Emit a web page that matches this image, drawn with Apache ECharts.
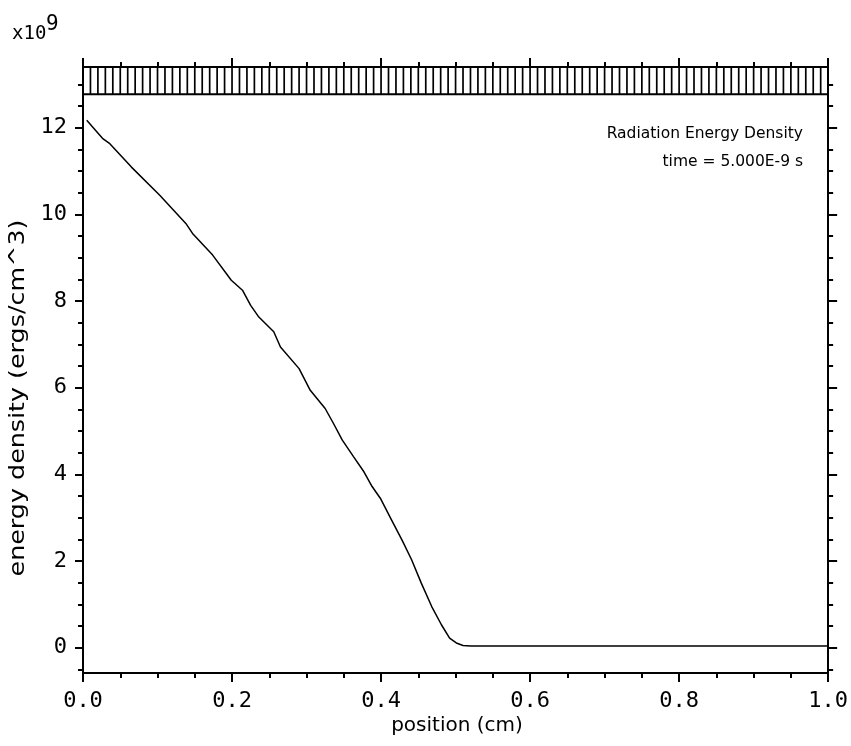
<!DOCTYPE html>
<html>
<head>
<meta charset="utf-8">
<script src="https://cdn.jsdelivr.net/npm/echarts@6/dist/echarts.min.js"></script>
<style>html,body{margin:0;padding:0;background:#fff;}#c{width:851px;height:746px;}</style>
</head>
<body>
<div id="c"></div>
<script>
// position (cm)
const positions = [0.005, 0.027, 0.036, 0.065, 0.103, 0.138, 0.147, 0.174, 0.199, 0.214, 0.225, 0.236, 0.256, 0.265, 0.290, 0.305, 0.325, 0.336, 0.348, 0.363, 0.377, 0.388, 0.399, 0.414, 0.428, 0.441, 0.454, 0.468, 0.481, 0.492, 0.501, 0.510, 0.520, 0.600, 0.700, 0.800, 0.900, 1.000];
// energy density (x1e9 ergs/cm^3)
const energyDensity = [12.17, 11.74, 11.63, 11.09, 10.44, 9.79, 9.56, 9.06, 8.48, 8.25, 7.90, 7.63, 7.29, 6.94, 6.44, 5.94, 5.52, 5.18, 4.79, 4.41, 4.06, 3.72, 3.45, 2.95, 2.49, 2.03, 1.49, 0.95, 0.53, 0.22, 0.11, 0.05, 0.04, 0.04, 0.04, 0.04, 0.04, 0.04];
// mesh zone edges shown in the top band
const meshEdges = [0.00,0.01,0.02,0.03,0.04,0.05,0.06,0.07,0.08,0.09,0.10,0.11,0.12,0.13,0.14,0.15,0.16,0.17,0.18,0.19,0.20,0.21,0.22,0.23,0.24,0.25,0.26,0.27,0.28,0.29,0.30,0.31,0.32,0.33,0.34,0.35,0.36,0.37,0.38,0.39,0.40,0.41,0.42,0.43,0.44,0.45,0.46,0.47,0.48,0.49,0.50,0.51,0.52,0.53,0.54,0.55,0.56,0.57,0.58,0.59,0.60,0.61,0.62,0.63,0.64,0.65,0.66,0.67,0.68,0.69,0.70,0.71,0.72,0.73,0.74,0.75,0.76,0.77,0.78,0.79,0.80,0.81,0.82,0.83,0.84,0.85,0.86,0.87,0.88,0.89,0.90,0.91,0.92,0.93,0.94,0.95,0.96,0.97,0.98,0.99,1.00];
const yMajorTicks = [0, 2, 4, 6, 8, 10, 12];
const yMinorTicks = [-0.5, 0.5, 1, 1.5, 2.5, 3, 3.5, 4.5, 5, 5.5, 6.5, 7, 7.5, 8.5, 9, 9.5, 10.5, 11, 11.5, 12.5, 13];
const yMin = -0.583, yMax = 13.40, bandBottom = 12.77;

const chart = echarts.init(document.getElementById('c'), null, {renderer: 'canvas'});
const mono = 'DejaVu Sans Mono';
const sans = 'DejaVu Sans';

function xAx(pos, showLabel) {
  return {
    type: 'value', position: pos, min: 0, max: 1, interval: 0.2,
    axisLine: {show: true, onZero: false, lineStyle: {color: '#000', width: 2}},
    axisTick: {show: true, inside: false, length: 9, lineStyle: {color: '#000', width: 2}},
    minorTick: {show: true, splitNumber: 4, length: 5, lineStyle: {color: '#000', width: 2}},
    splitLine: {show: false}, minorSplitLine: {show: false},
    axisLabel: {show: showLabel, margin: 17, color: '#000', fontFamily: mono, fontSize: 22,
      formatter: v => v.toFixed(1)}
  };
}
function yAx(pos, ticks, len, showLabel, showLine) {
  return {
    type: 'value', position: pos, min: yMin, max: yMax,
    axisLine: {show: showLine, onZero: false, lineStyle: {color: '#000', width: 2}},
    axisTick: {show: true, inside: false, length: len, customValues: ticks, lineStyle: {color: '#000', width: 2}},
    splitLine: {show: false},
    axisLabel: {show: showLabel, customValues: yMajorTicks, margin: 16, color: '#000', fontFamily: mono, fontSize: 22,
      formatter: v => String(Math.round(v))}
  };
}

chart.setOption({
  animation: false,
  backgroundColor: '#fff',
  grid: {left: 83, right: 19, top: 67, bottom: 73, containLabel: false},
  xAxis: [xAx('bottom', true), xAx('top', false)],
  yAxis: [
    yAx('left', yMajorTicks, 8, true, true),
    yAx('left', yMinorTicks, 5, false, false),
    yAx('right', yMajorTicks, 9, false, true),
    yAx('right', yMinorTicks, 5, false, false)
  ],
  series: [
    {
      type: 'line', xAxisIndex: 0, yAxisIndex: 0,
      data: positions.map((x, i) => [x, energyDensity[i]]),
      showSymbol: false, symbol: 'none', smooth: false,
      lineStyle: {color: '#000', width: 1.5}
    },
    {
      type: 'line', xAxisIndex: 0, yAxisIndex: 0,
      data: [[0, bandBottom], [1, bandBottom]],
      showSymbol: false, symbol: 'none',
      lineStyle: {color: '#000', width: 2}
    },
    {
      type: 'custom', xAxisIndex: 0, yAxisIndex: 0, clip: false,
      data: meshEdges.map(x => [x, bandBottom]),
      renderItem: function (params, api) {
        const x = api.value(0);
        const p0 = api.coord([x, bandBottom]);
        const p1 = api.coord([x, yMax]);
        return {type: 'line', shape: {x1: p0[0], y1: p0[1], x2: p1[0], y2: p1[1]},
          style: {stroke: '#000', lineWidth: 1.7}};
      }
    }
  ],
  graphic: [
    {type: 'text', x: 12, y: 44, style: {text: 'x10', textAlign: 'left', textVerticalAlign: 'bottom',
      fontFamily: mono, fontSize: 19, fill: '#000'}},
    {type: 'text', x: 46, y: 35, style: {text: '9', textAlign: 'left', textVerticalAlign: 'bottom',
      fontFamily: mono, fontSize: 21, fill: '#000'}},
    {type: 'text', x: 803, y: 134, style: {text: 'Radiation Energy Density', textAlign: 'right', textVerticalAlign: 'middle',
      fontFamily: sans, fontSize: 15.5, fill: '#000'}},
    {type: 'text', x: 803, y: 162, style: {text: 'time = 5.000E-9 s', textAlign: 'right', textVerticalAlign: 'middle',
      fontFamily: sans, fontSize: 15.5, fill: '#000'}},
    {type: 'text', x: 457, y: 726, style: {text: 'position (cm)', textAlign: 'center', textVerticalAlign: 'middle',
      fontFamily: sans, fontSize: 20, fill: '#000'}},
    {type: 'text', x: 18, y: 398, rotation: Math.PI / 2, scaleX: 1.18, scaleY: 1, style: {text: 'energy density (ergs/cm^3)', textAlign: 'center', textVerticalAlign: 'middle',
      fontFamily: sans, fontSize: 21.5, fill: '#000'}}
  ]
});
</script>
</body>
</html>
